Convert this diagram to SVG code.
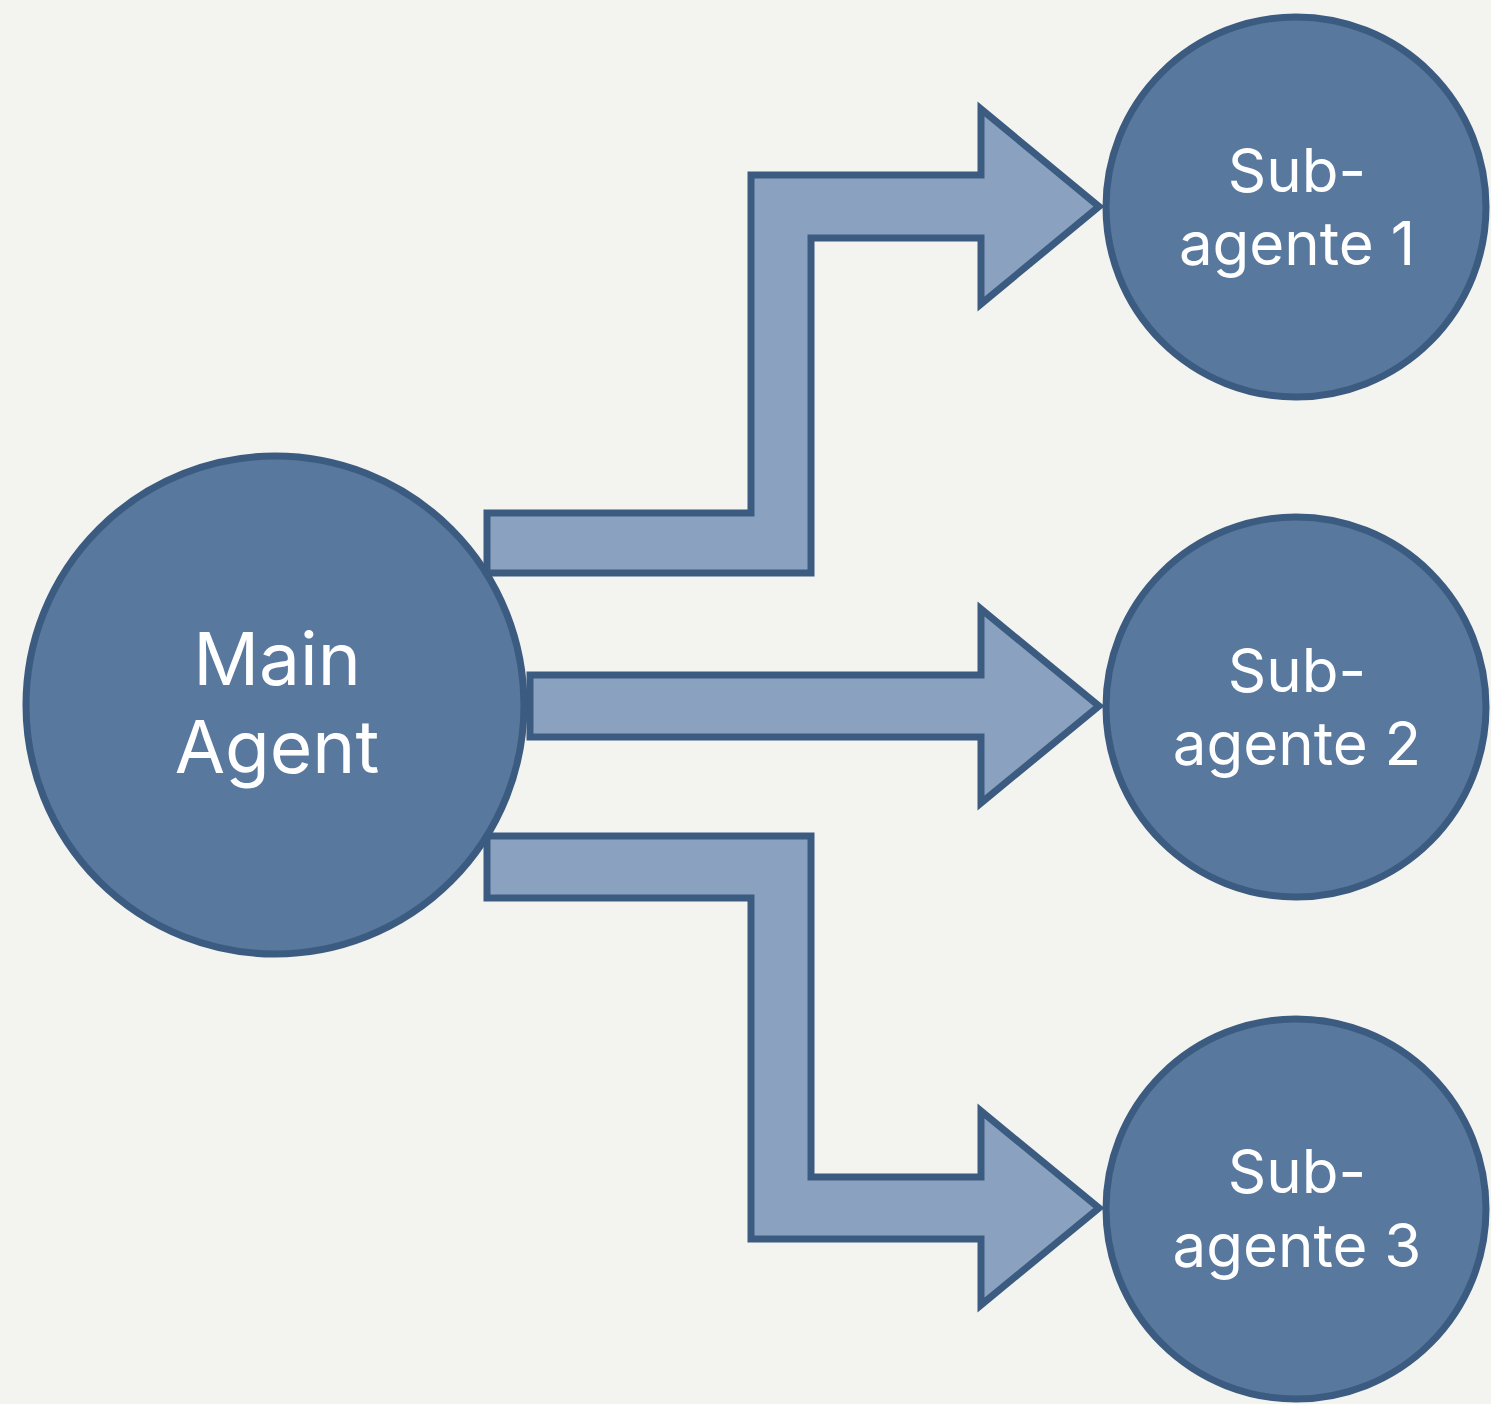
<svg xmlns="http://www.w3.org/2000/svg" width="1491" height="1404" viewBox="0 0 1491 1404">
<style>
.bg{fill:#f3f3ef}
.arrow{fill:#8aa2bf;stroke:#3c5b81;stroke-width:7;stroke-linejoin:miter;stroke-miterlimit:10}
.node{fill:#58789e;stroke:#3c5b81;stroke-width:7}
.lbl{font-family:Inter,"Liberation Sans",sans-serif;fill:#ffffff;text-anchor:middle;font-weight:400}
.main{font-size:73px}
.sub{font-size:60px}
</style>
<rect class="bg" x="0" y="0" width="1491" height="1404"/>
<g id="connectors">
<path id="arrow1" class="arrow" d="M487,513 L751,513 L751,175 L981,175 L981,109 L1099,206.5 L981,304 L981,238 L811,238 L811,573 L487,573 Z"/>
<path id="arrow2" class="arrow" d="M530,675 L981,675 L981,609 L1099,706 L981,803 L981,737 L530,737 Z"/>
<path id="arrow3" class="arrow" d="M487,836 L811,836 L811,1177 L981,1177 L981,1111 L1099,1208 L981,1305 L981,1239 L751,1239 L751,898 L487,898 Z"/>
</g>
<g id="main-agent">
<circle class="node" cx="275" cy="705" r="249"/>
<text class="lbl main" x="277" y="685">Main</text>
<text class="lbl main" x="277" y="773">Agent</text>
</g>
<g id="subagente-1">
<circle class="node" cx="1296" cy="207" r="190"/>
<text class="lbl sub" x="1297" y="192">Sub-</text>
<text class="lbl sub" x="1297" y="265">agente 1</text>
</g>
<g id="subagente-2">
<circle class="node" cx="1296" cy="707" r="190"/>
<text class="lbl sub" x="1297" y="692">Sub-</text>
<text class="lbl sub" x="1297" y="765">agente 2</text>
</g>
<g id="subagente-3">
<circle class="node" cx="1296" cy="1209" r="190"/>
<text class="lbl sub" x="1297" y="1193">Sub-</text>
<text class="lbl sub" x="1297" y="1267">agente 3</text>
</g>
</svg>
